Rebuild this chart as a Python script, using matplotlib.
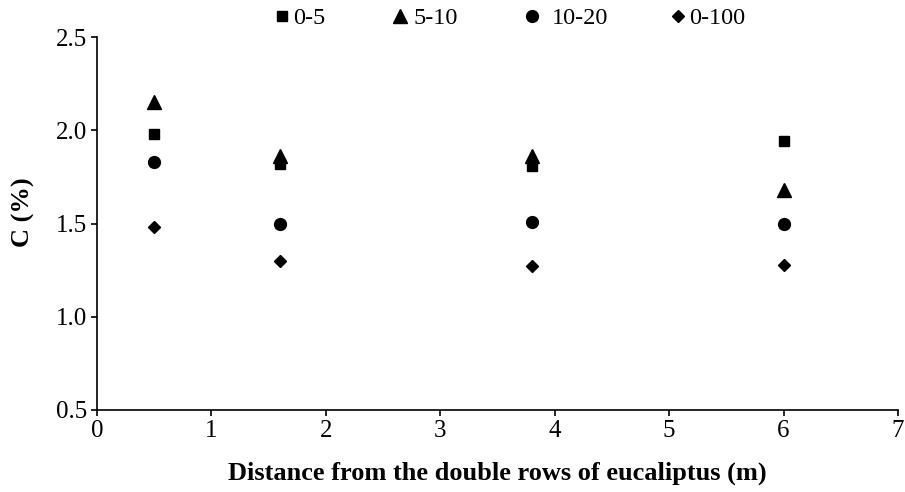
import matplotlib.pyplot as plt

plt.rcParams['font.family'] = ['Liberation Serif', 'DejaVu Serif']

distance = [0.5, 1.6, 3.8, 6.0]
depths = ["0-5", "5-10", "10-20", "0-100"]
c_0_5 = [1.98, 1.82, 1.81, 1.94]
c_5_10 = [2.15, 1.86, 1.86, 1.68]
c_10_20 = [1.83, 1.50, 1.51, 1.50]
c_0_100 = [1.48, 1.30, 1.27, 1.28]

series = [c_0_5, c_5_10, c_10_20, c_0_100]
markers = ["s", "^", "o", "D"]
sizes = [7.5, 10.5, 8.5, 6.5]

W, H = 905, 492
fig = plt.figure(figsize=(W / 100, H / 100), dpi=100)
ax = fig.add_axes([97 / W, 1 - 410 / H, (898 - 97) / W, (410 - 37) / H])

lines = []
for vals, lab, m, s in zip(series, depths, markers, sizes):
    ln, = ax.plot(distance, vals, linestyle="none", marker=m, markersize=s,
                  color="black", label=lab)
    lines.append(ln)

ax.set_xlim(0, 7)
ax.set_ylim(0.5, 2.5)
ax.set_xticks(range(0, 8))
ax.set_yticks([0.5, 1.0, 1.5, 2.0, 2.5])
ax.set_yticklabels(["0.5", "1.0", "1.5", "2.0", "2.5"])
ax.tick_params(labelsize=18, direction="out", length=4, width=1.2, pad=3)
ax.spines["top"].set_visible(False)
ax.spines["right"].set_visible(False)
ax.spines["left"].set_linewidth(1.2)
ax.spines["bottom"].set_linewidth(1.2)

ax.set_xlabel("Distance from the double rows of eucaliptus (m)",
              fontsize=19, fontweight="bold", labelpad=14)
ax.set_ylabel("C (%)", fontsize=19, fontweight="bold", va="center")
ax.yaxis.set_label_coords(-0.092, 0.53)

# legend entries laid out one by one along the top (marker centre x in px)
legend_x = [282, 400, 532, 678]
legend_pad = [0.2, 0.3, 0.55, 0.2]
for ln, x, pad in zip(lines, legend_x, legend_pad):
    fig.legend(handles=[ln], loc="center left",
               bbox_to_anchor=((x - 7) / W, 1 - 18 / H),
               frameon=False, fontsize=17.5, borderpad=0, borderaxespad=0,
               handlelength=0.55, handletextpad=pad)

fig.savefig("out.png", dpi=100)
